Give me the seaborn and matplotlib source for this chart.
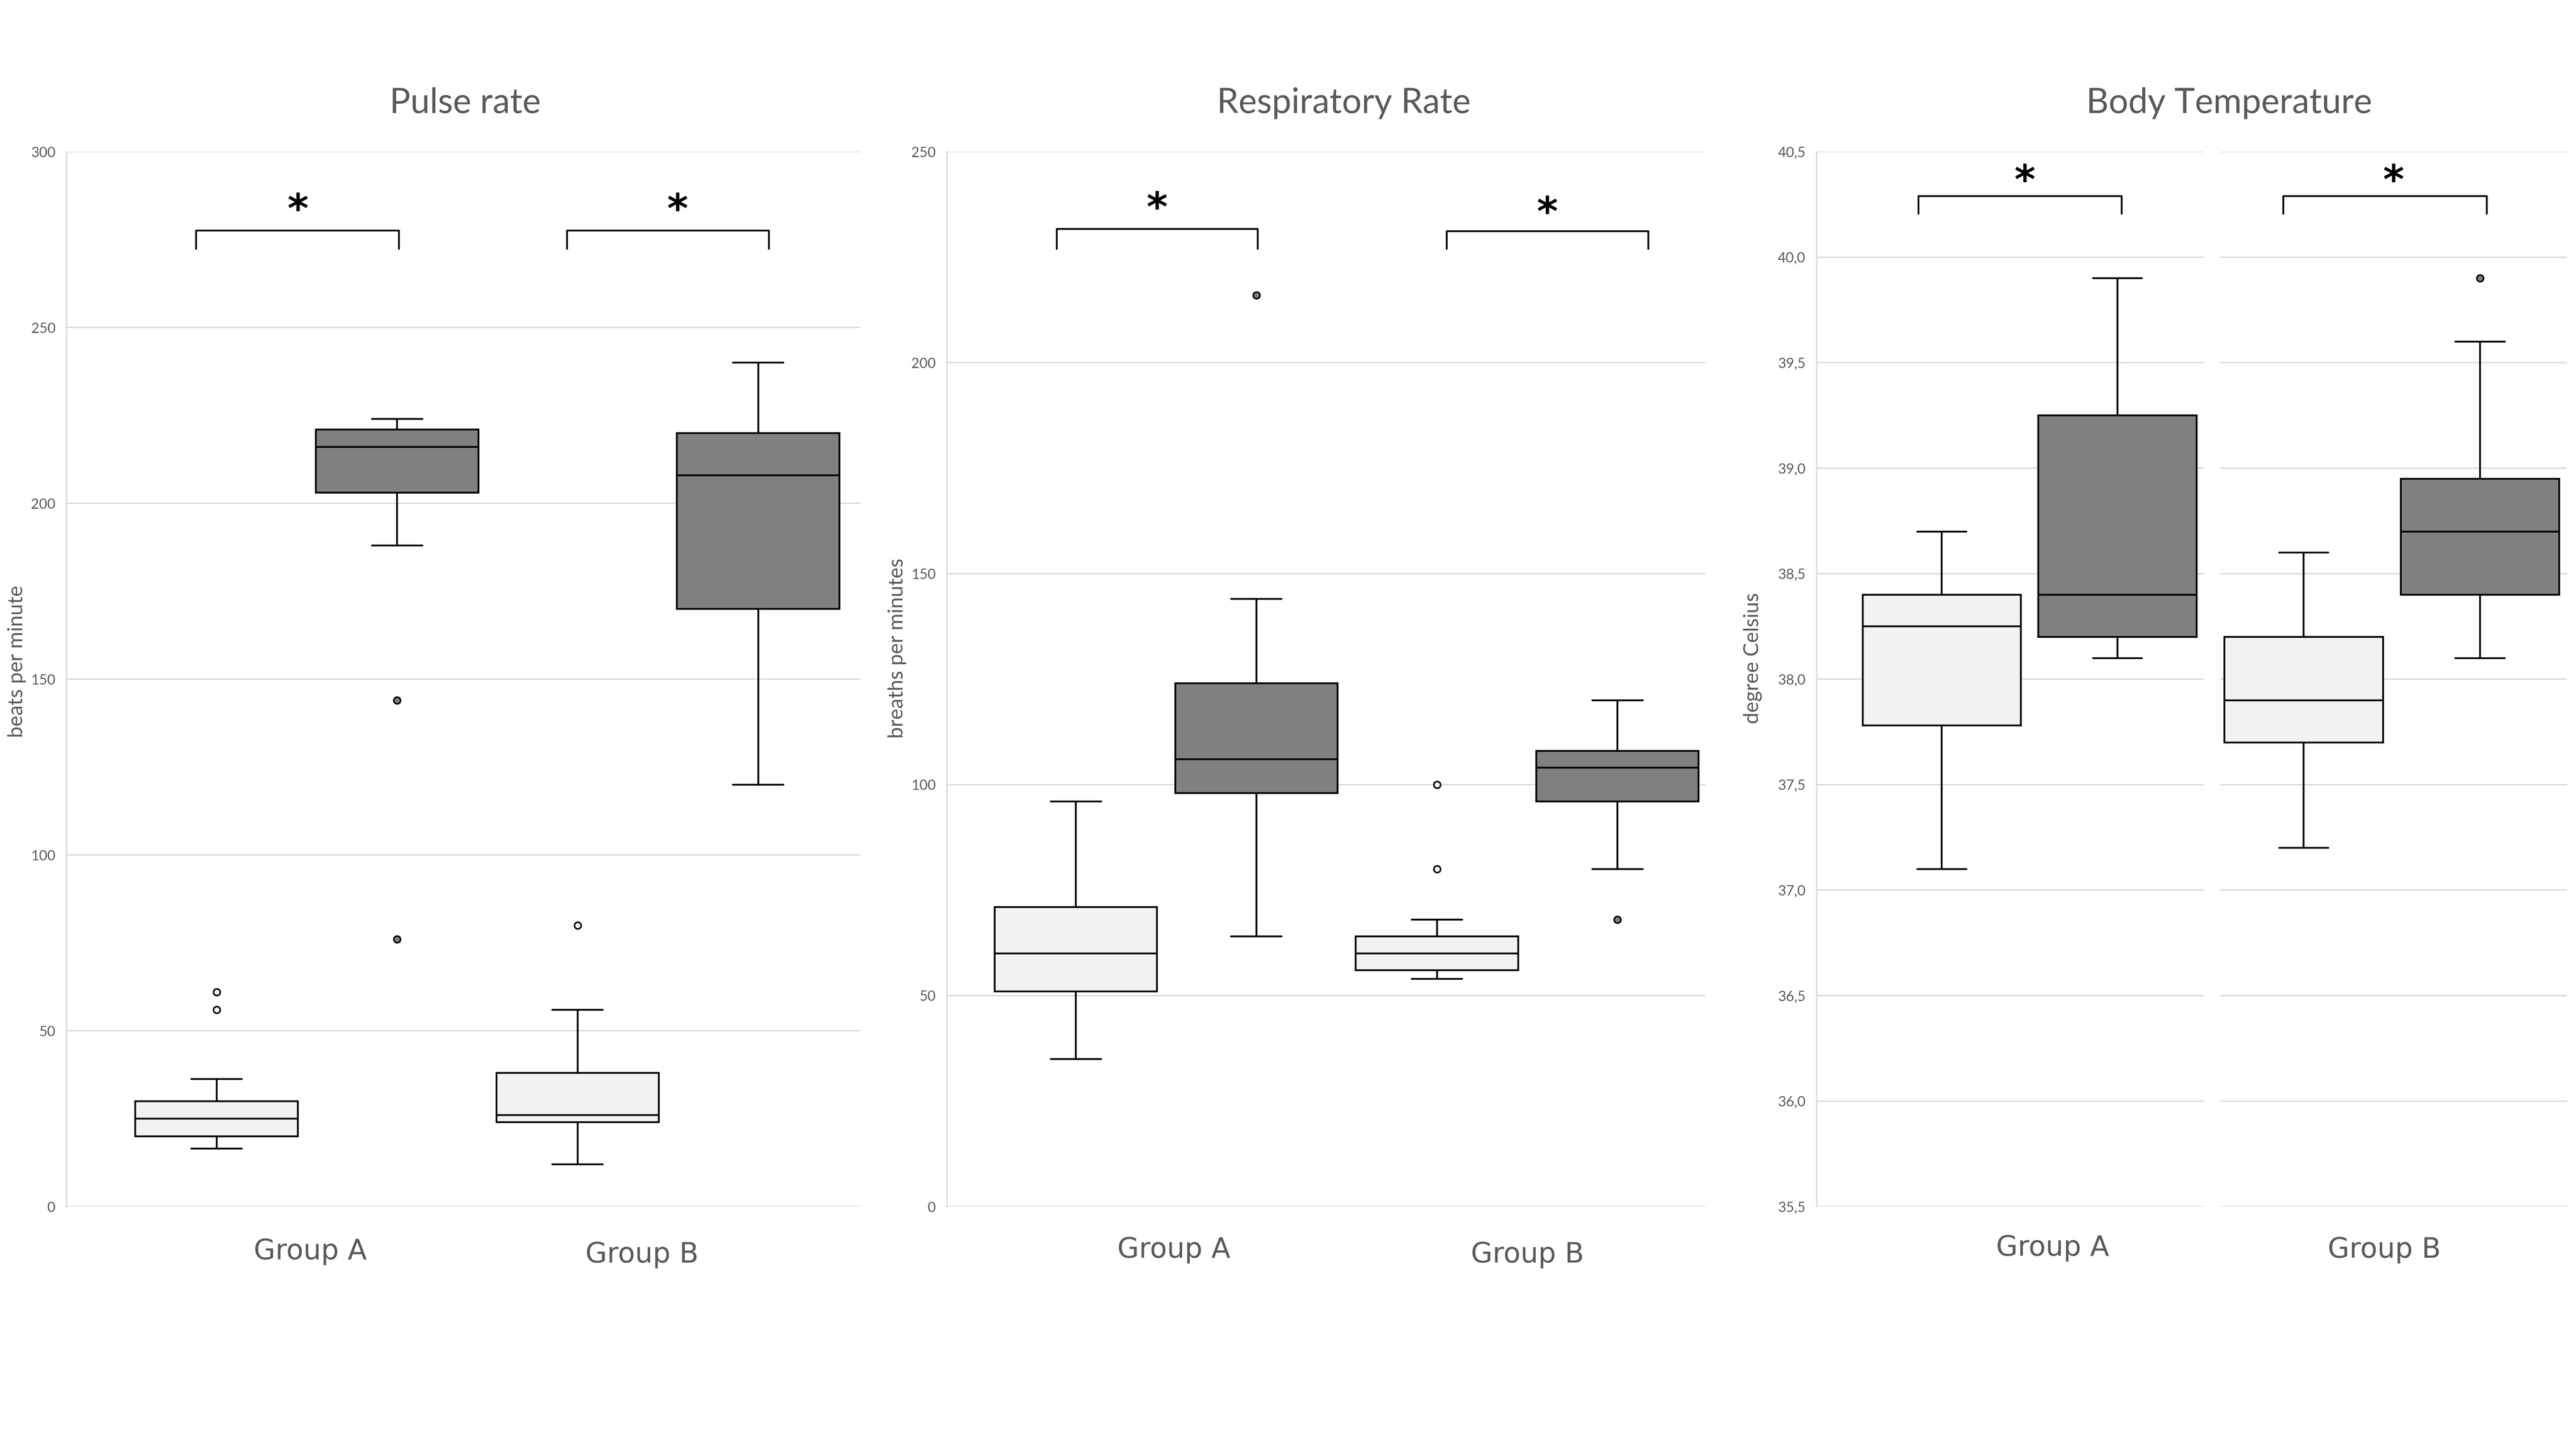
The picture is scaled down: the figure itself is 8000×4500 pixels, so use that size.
import numpy as np
import pandas as pd
import matplotlib
matplotlib.use("Agg")
import matplotlib.pyplot as plt
from matplotlib.ticker import FuncFormatter
import seaborn as sns

# group / condition names
groups = ["Group A", "Group B"]
conds = ["baseline", "fever"]
box_colors = ["#F2F2F2", "#808080"]

# raw observations, one list per box (read so they reproduce the drawn quartiles, whiskers, outliers)
pulse_a_light = [16.5, 18, 19, 20, 22, 23, 25, 27, 28, 30, 36.3, 56, 61]
pulse_a_dark = [76, 144, 188, 203, 208, 212, 216, 218, 219, 221, 222, 223, 224]
pulse_b_light = [12, 20, 24, 25, 26, 30, 38, 56, 80]
pulse_b_dark = [120, 170, 208, 220, 240]

resp_a_light = [35, 51, 60, 71, 96]
resp_a_dark = [64, 90, 98, 102, 106, 115, 124, 144, 216]
resp_b_light = [54, 55, 55, 56, 58, 59, 60, 62, 63, 64, 68, 80, 100]
resp_b_dark = [68, 80, 96, 100, 104, 106, 108, 120, 120]

temp_a_light = [37.1, 37.78, 38.25, 38.4, 38.7]
temp_a_dark = [38.1, 38.2, 38.4, 39.25, 39.9]
temp_b_light = [37.2, 37.7, 37.9, 38.2, 38.6]
temp_b_dark = [38.1, 38.3, 38.4, 38.6, 38.7, 38.8, 38.95, 39.6, 39.9]

titles = ["Pulse rate", "Respiratory Rate", "Body Temperature"]
ylabels = ["beats per minute", "breaths per minutes", "degree Celsius"]
pulse_ticks = [0, 50, 100, 150, 200, 250, 300]
resp_ticks = [0, 50, 100, 150, 200, 250]
temp_ticks = [35.5, 36.0, 36.5, 37.0, 37.5, 38.0, 38.5, 39.0, 39.5, 40.0, 40.5]


def long_df(a_light, a_dark, b_light, b_dark):
    rows = []
    for g, c, vals in [(groups[0], conds[0], a_light), (groups[0], conds[1], a_dark),
                       (groups[1], conds[0], b_light), (groups[1], conds[1], b_dark)]:
        for v in vals:
            rows.append({"group": g, "cond": c, "value": v})
    return pd.DataFrame(rows)


pulse_df = long_df(pulse_a_light, pulse_a_dark, pulse_b_light, pulse_b_dark)
resp_df = long_df(resp_a_light, resp_a_dark, resp_b_light, resp_b_dark)
temp_df = long_df(temp_a_light, temp_a_dark, temp_b_light, temp_b_dark)

sns.set_theme(style="white")
plt.rcParams["font.family"] = ["Lato", "DejaVu Sans"]

GRID = "#D9D9D9"
TXT = "#595959"

fig = plt.figure(figsize=(16, 9), dpi=500)

bottom, height = 0.1673, 0.728
ax1 = fig.add_axes([0.0259, bottom, 0.3081, height])
ax2 = fig.add_axes([0.3676, bottom, 0.2945, height])
ax3a = fig.add_axes([0.7052, bottom, 0.1503, height])
ax3b = fig.add_axes([0.8620, bottom, 0.1345, height])


def draw_boxes(ax, df, order):
    sns.boxplot(data=df, x="group", y="value", hue="cond", order=order,
                hue_order=conds, palette=box_colors, width=1.0, gap=0.1,
                linecolor="black", linewidth=0.8, whis=1.5, legend=False,
                capwidths=0.14, ax=ax,
                flierprops=dict(marker="o", markersize=3.0,
                                markeredgecolor="black", markeredgewidth=0.7))
    for cont, col in zip(ax.containers, box_colors):
        for fl in cont.fliers:
            fl.set_markerfacecolor(col)
            fl.set_markeredgecolor("black")


def style_axis(ax, ticks, show_left=True):
    ax.set_ylim(ticks[0], ticks[-1])
    ax.set_yticks(ticks)
    ax.grid(axis="y", color=GRID, linewidth=0.6)
    ax.grid(axis="x", visible=False)
    ax.set_axisbelow(True)
    for s in ["top", "right", "bottom"]:
        ax.spines[s].set_visible(False)
    ax.spines["left"].set_color(GRID)
    ax.spines["left"].set_linewidth(0.6)
    ax.spines["left"].set_visible(show_left)
    ax.tick_params(axis="y", length=0, pad=5, labelsize=6.3, labelcolor=TXT,
                   labelleft=show_left)
    ax.set_xticks([])
    ax.set_xlabel("")
    ax.set_ylabel("")


def bracket(ax, x0, x1, ytop, yleg, xs, ys):
    ax.plot([x0, x0, x1, x1], [yleg, ytop, ytop, yleg], color="black",
            linewidth=0.8, solid_joinstyle="round", clip_on=False)
    ax.text(xs, ys, "*", ha="center", va="center", fontsize=18,
            fontweight="bold", color="black", family="DejaVu Sans")


draw_boxes(ax1, pulse_df, groups)
style_axis(ax1, pulse_ticks)
ax1.set_xlim(-0.665, 1.533)
bracket(ax1, -0.307, 0.255, 277.6, 272.4, -0.025, 283.0)
bracket(ax1, 0.721, 1.28, 277.6, 272.4, 1.027, 283.0)

draw_boxes(ax2, resp_df, groups)
style_axis(ax2, resp_ticks)
ax2.set_xlim(-0.607, 1.494)
bracket(ax2, -0.303, 0.254, 231.7, 227.0, -0.025, 236.2)
bracket(ax2, 0.777, 1.335, 231.2, 227.0, 1.056, 235.2)

comma = FuncFormatter(lambda v, p: f"{v:.1f}".replace(".", ","))
draw_boxes(ax3a, temp_df[temp_df.group == groups[0]], [groups[0]])
style_axis(ax3a, temp_ticks)
ax3a.yaxis.set_major_formatter(comma)
ax3a.set_xlim(-0.606, 0.4956)
bracket(ax3a, -0.316, 0.262, 40.29, 40.205, -0.014, 40.355)

draw_boxes(ax3b, temp_df[temp_df.group == groups[1]], [groups[1]])
style_axis(ax3b, temp_ticks, show_left=False)
ax3b.set_xlim(-0.486, 0.4966)
bracket(ax3b, -0.308, 0.269, 40.29, 40.205, 0.005, 40.355)

# titles
for x, t in zip([0.1806, 0.5217, 0.8654], titles):
    fig.text(x, 0.9287, t, ha="center", va="center", fontsize=15.5, color=TXT)

# y labels
for x, y, t in zip([0.0065, 0.3482, 0.6803], [0.5434, 0.5526, 0.5457], ylabels):
    fig.text(x, y, t, ha="center", va="center", rotation=90, fontsize=9.2,
             color=TXT)

# group labels under each panel
for x, y, t in [(0.1204, 0.1363, groups[0]), (0.2492, 0.1340, groups[1]),
                (0.4557, 0.1374, groups[0]), (0.5929, 0.1340, groups[1]),
                (0.7968, 0.1386, groups[0]), (0.9256, 0.1374, groups[1])]:
    fig.text(x, y, t, ha="center", va="center", fontsize=12.5, color=TXT,
             family="DejaVu Sans")

fig.savefig("out.png", dpi=500, facecolor="white")
